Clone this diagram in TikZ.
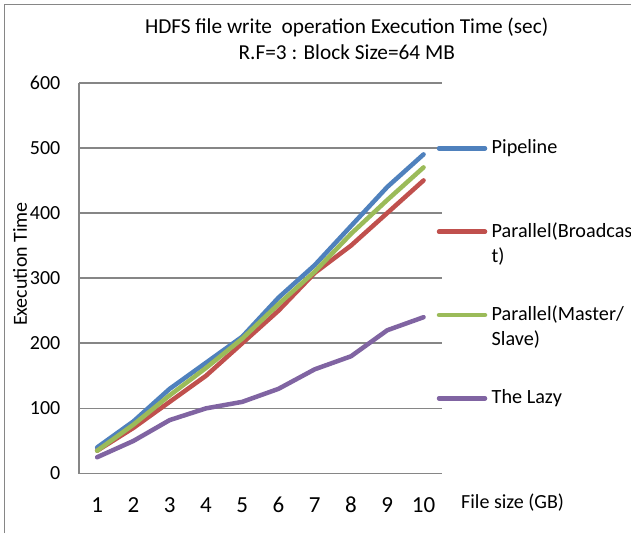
\documentclass[tikz,border=0pt]{standalone}
\usepackage{fontspec}
\setmainfont{Carlito}
\definecolor{gridcol}{HTML}{868686}
\definecolor{pipecol}{HTML}{4F81BD}
\definecolor{bcastcol}{HTML}{C0504D}
\definecolor{mscol}{HTML}{9BBB59}
\definecolor{lazycol}{HTML}{8064A2}
\tikzset{
  gridline/.style={draw=gridcol, line width=1.6pt},
  series/.style={line width=4.5pt, line cap=round, line join=round},
  legline/.style={line width=4.5pt, line cap=round},
  ticklab/.style={font=\fontsize{20}{24}\selectfont, inner sep=0pt},
  xticklab/.style={font=\fontsize{23}{26}\selectfont, inner sep=0pt},
  lab/.style={font=\fontsize{20}{24}\selectfont, inner sep=0pt},
  titlelab/.style={font=\fontsize{21.3}{24}\selectfont, inner sep=0pt},
  legtext/.style={font=\fontsize{20.2}{25}\selectfont, inner sep=0pt, anchor=west, align=left},
}
\begin{document}
\begin{tikzpicture}[x=1pt,y=-1pt]
\useasboundingbox (0,0) rectangle (631,533);
\fill[white] (0,0) rectangle (631,533);
% outer frame
\draw[gridcol, line width=1.6pt] (4.5,533) -- (4.5,4.5) -- (631,4.5);
% title
\node[titlelab] (title1) at (346.7,27) {HDFS file write\ \ operation Execution Time (sec)};
\node[titlelab] (title2) at (346.7,52.5) {R.F=3 : Block Size=64 MB};
% grid lines and y tick labels
\foreach \v in {100,200,...,600}{
  \draw[gridline] (79,473.5-\v*0.6513) -- (441.7,473.5-\v*0.6513);
}
\foreach \v in {0,100,...,600}{
  \node[ticklab, anchor=east] (y\v) at (60.5,473.5-\v*0.6513) {\v};
}
% axes
\draw[gridline] (79,82.7) -- (79,473.5) -- (441.7,473.5);
% x tick labels
\foreach \i in {1,...,10}{
  \node[xticklab] (x\i) at (79+\i*36.27-18.135,505) {\i};
}
% axis labels
\node[lab, rotate=90] (ylab) at (20,264) {Execution Time};
\node[lab, anchor=west] (xlab) at (461,503) {File size (GB)};
% data
\begin{scope}[shift={(60.865,473.5)}, x=36.27pt, y=0.6513pt]
  \draw[series, pipecol] plot coordinates {(1,40) (2,80) (3,130) (4,170) (5,210) (6,270) (7,320) (8,380) (9,440) (10,490)};
  \draw[series, bcastcol] plot coordinates {(1,35) (2,70) (3,110) (4,150) (5,200) (6,250) (7,308) (8,350) (9,400) (10,450)};
  \draw[series, mscol] plot coordinates {(1,35) (2,75) (3,120) (4,162) (5,207) (6,260) (7,310) (8,368) (9,420) (10,470)};
  \draw[series, lazycol] plot coordinates {(1,25) (2,50) (3,82) (4,100) (5,110) (6,130) (7,160) (8,180) (9,220) (10,240)};
\end{scope}
% legend
\draw[legline, pipecol] (439,148.3) -- (485,148.3);
\draw[legline, bcastcol] (439,231.7) -- (485,231.7);
\draw[legline, mscol] (439,315) -- (485,315);
\draw[legline, lazycol] (439,398.3) -- (485,398.3);
\node[legtext] (leg1) at (491.5,148.3) {Pipeline};
\node[legtext] (leg2) at (491.5,231.7) {Parallel(Broadcas};
\node[legtext] (leg2b) at (491.5,256.7) {t)};
\node[legtext] (leg3) at (491.5,315) {Parallel(Master/};
\node[legtext] (leg3b) at (491.5,340) {Slave)};
\node[legtext] (leg4) at (491.5,398.3) {The Lazy};
\end{tikzpicture}
\end{document}
